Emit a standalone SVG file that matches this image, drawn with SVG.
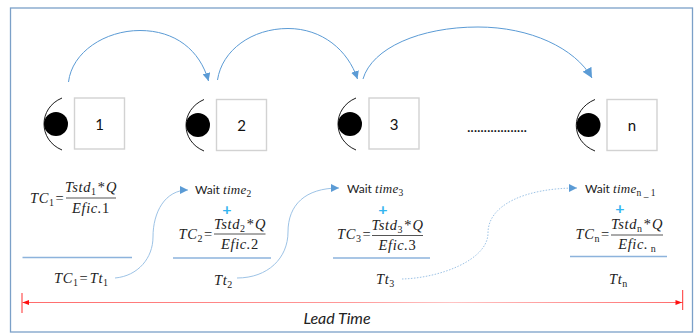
<svg xmlns="http://www.w3.org/2000/svg" width="697" height="333" viewBox="0 0 697 333">
<style>
.box{fill:#fff;stroke:#d2d2d2;stroke-width:1.4}
.dot{fill:#000}
.arc{fill:none;stroke:#000;stroke-width:.9}
.num{font:15px Lato,"Open Sans",sans-serif;fill:#111;text-anchor:middle}
.m{font:italic 14.500px "Liberation Serif",serif;fill:#222;letter-spacing:.6px}
.mm{text-anchor:middle}
.up{font-style:normal}
.s{font-size:10px;font-style:normal;letter-spacing:0}
.w{font:12px Lato,"Open Sans",sans-serif;fill:#222}
.t{font-family:"Liberation Serif",serif;font-style:italic;font-size:13px;letter-spacing:.3px}
.ts{font-family:"Liberation Serif",serif;font-size:9.500px}
.p{font:bold 16px Lato,sans-serif;fill:#33b5f0;text-anchor:middle}
.fl{stroke:#555;stroke-width:1}
.ul{stroke:#8db3dc;stroke-width:1.3}
.c{fill:none;stroke:#5b9bd5;stroke-width:1}
.sc{fill:none;stroke:#9dc3e6;stroke-width:1}
</style>
<defs>
<marker id="a" markerWidth="10" markerHeight="8" refX="8" refY="4" orient="auto" markerUnits="userSpaceOnUse"><path d="M0 0L8 4L0 8Z" fill="#5b9bd5"/></marker>
<marker id="b" markerWidth="12" markerHeight="10" refX="10" refY="5" orient="auto" markerUnits="userSpaceOnUse"><path d="M0 0L10 5L0 10Z" fill="#5b9bd5"/></marker>
<linearGradient id="g" x1="22" x2="683" y1="0" y2="0" gradientUnits="userSpaceOnUse">
<stop offset="0" stop-color="#ff6b6b"/><stop offset=".5" stop-color="#ff9a9a"/><stop offset=".65" stop-color="#ffc4c4"/><stop offset="1" stop-color="#ff6b6b"/></linearGradient>
</defs>
<rect x="0" y="0" width="697" height="333" fill="#fff"/>
<rect id="frame" x="10.500" y="8" width="682" height="324" fill="none" stroke="#7ba0c8" stroke-width="1.3"/>

<g id="connectors">
<path class="c" marker-end="url(#a)" d="M68.500 82C72 52 105 30.500 140 30.500C175 30.500 200 50 208.500 81"/>
<path class="c" marker-end="url(#a)" d="M217.500 80C222 50 252 28.500 288 28.500C322 28.500 348 50 357.500 79"/>
<path class="c" marker-end="url(#b)" d="M363 79C372 48 420 27 478 27C530 27 575 48 592 78"/>
<path class="sc" marker-end="url(#a)" d="M115 278C138 276 153 258 153 237C153 212 165 190 188 190"/>
<path class="sc" marker-end="url(#a)" d="M237 278C268 278 288 258 288 232C288 205 305 188 339 188"/>
<path class="sc" stroke-dasharray="1.500 1.500" marker-end="url(#a)" d="M402 279C440 278 488 260 488 233C488 205 525 188 577 188"/>
<line x1="22" x2="683" y1="302.500" y2="302.500" stroke="url(#g)" stroke-width="1.2"/>
<path d="M29 300L22.500 302.500L29 305Z" fill="#f11"/>
<path d="M675.500 300L682 302.500L675.500 305Z" fill="#f11"/>
<line x1="22" x2="22" y1="293" y2="313" stroke="#ff6b6b" stroke-width="1.4"/>
<line x1="682.700" x2="682.700" y1="290" y2="310" stroke="#f33" stroke-width="1"/>
</g>

<g id="node1"><path class="arc" d="M62 98C38 108 38 140 62 150"/><circle class="dot" cx="56" cy="124" r="12"/><rect class="box" x="74.500" y="98" width="50" height="51"/><text class="num" x="99.500" y="129.500">1</text></g>
<g id="node2"><path class="arc" d="M204 99.500C180 110 180 141 204 151"/><circle class="dot" cx="198" cy="125" r="12"/><rect class="box" x="216.500" y="99.500" width="50" height="51"/><text class="num" x="241.500" y="130.500">2</text></g>
<g id="node3"><path class="arc" d="M356 98C332 108 332 140 356 150"/><circle class="dot" cx="350" cy="124" r="12"/><rect class="box" x="369" y="98" width="50" height="51"/><text class="num" x="394" y="129.500">3</text></g>
<g id="noden"><path class="arc" d="M595 99.500C570 110 570 141 595 151"/><circle class="dot" cx="588.500" cy="125" r="12"/><rect class="box" x="607" y="99.500" width="50" height="51"/><text class="num" x="632" y="131">n</text></g>
<text id="ellipsis" x="467" y="132" class="num" style="text-anchor:start" textLength="60" lengthAdjust="spacing">..................</text>

<g id="calc1">
<text class="m" x="30" y="203">TC<tspan class="s" dy="3">1</tspan><tspan class="up" dy="-3" dx="1.500">=</tspan></text>
<line class="fl" x1="66" x2="116" y1="198" y2="198"/>
<text class="m mm" x="91" y="192">Tstd<tspan class="s" dy="3">1</tspan><tspan dy="-3" dx="1">*</tspan><tspan dx="1">Q</tspan></text>
<text class="m mm" x="91" y="212.500">Efic.<tspan class="up">1</tspan></text>
<line class="ul" x1="22.500" x2="132" y1="257.500" y2="257.500"/>
<text class="m" x="54" y="283">TC<tspan class="s" dy="3">1</tspan><tspan class="up" dy="-3" dx="1.500">=</tspan><tspan dx="1.500">Tt</tspan><tspan class="s" dy="3">1</tspan></text>
</g>
<g id="calc2">
<text class="w" x="195" y="194">Wait <tspan class="t">time</tspan><tspan class="ts" dy="3">2</tspan></text>
<text class="p" x="227" y="214.500">+</text>
<text class="m" x="178.500" y="239">TC<tspan class="s" dy="3">2</tspan><tspan class="up" dy="-3" dx="1.500">=</tspan></text>
<line class="fl" x1="214" x2="265.500" y1="234" y2="234"/>
<text class="m mm" x="240" y="229">Tstd<tspan class="s" dy="3">2</tspan><tspan dy="-3" dx="1">*</tspan><tspan dx="1">Q</tspan></text>
<text class="m mm" x="240" y="249">Efic.<tspan class="up">2</tspan></text>
<line class="ul" x1="173" x2="271" y1="258" y2="258"/>
<text class="m" x="214" y="285">Tt<tspan class="s" dy="3">2</tspan></text>
</g>
<g id="calc3">
<text class="w" x="347" y="193">Wait <tspan class="t">time</tspan><tspan class="ts" dy="3">3</tspan></text>
<text class="p" x="383" y="214.500">+</text>
<text class="m" x="337" y="239">TC<tspan class="s" dy="3">3</tspan><tspan class="up" dy="-3" dx="1.500">=</tspan></text>
<line class="fl" x1="372" x2="423" y1="235.500" y2="235.500"/>
<text class="m mm" x="397.500" y="230">Tstd<tspan class="s" dy="3">3</tspan><tspan dy="-3" dx="1">*</tspan><tspan dx="1">Q</tspan></text>
<text class="m mm" x="397.500" y="250">Efic.<tspan class="up">3</tspan></text>
<line class="ul" x1="333" x2="430" y1="258" y2="258"/>
<text class="m" x="376" y="284">Tt<tspan class="s" dy="3">3</tspan></text>
</g>
<g id="calcn">
<text class="w" x="585" y="193">Wait <tspan class="t">time</tspan><tspan class="ts" dy="3">n _ 1</tspan></text>
<text class="p" x="620" y="213.500">+</text>
<text class="m" x="575.500" y="239">TC<tspan class="s" dy="3">n</tspan><tspan class="up" dy="-3" dx="1.500">=</tspan></text>
<line class="fl" x1="611" x2="663" y1="235" y2="235"/>
<text class="m mm" x="637" y="229">Tstd<tspan class="s" dy="3">n</tspan><tspan dy="-3" dx="1">*</tspan><tspan dx="1">Q</tspan></text>
<text class="m mm" x="637" y="249">Efic.<tspan class="s" dy="3"> n</tspan></text>
<line class="ul" x1="570" x2="667" y1="256.500" y2="256.500"/>
<text class="m" x="609" y="284">Tt<tspan class="s" dy="3">n</tspan></text>
</g>
<text id="leadtime" x="337" y="324" style="font:italic 16px Lato,sans-serif;text-anchor:middle;fill:#222">Lead Time</text>
</svg>
